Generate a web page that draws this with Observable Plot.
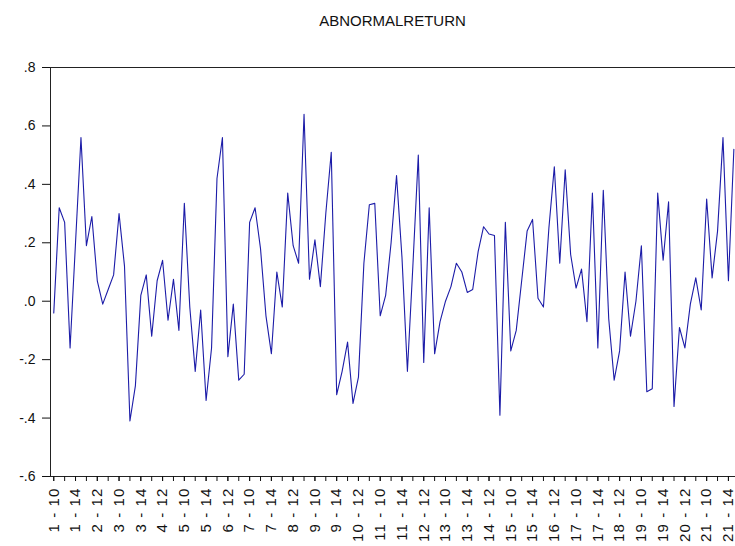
<!DOCTYPE html>
<html><head><meta charset="utf-8">
<script src="https://cdn.jsdelivr.net/npm/d3@7"></script>
<script src="https://cdn.jsdelivr.net/npm/@observablehq/plot@0.6"></script>
<style>
body{margin:0;background:#fff;font-family:"Liberation Sans",Arial,sans-serif;}
#title{height:40px;box-sizing:border-box;padding-top:13px;padding-left:50px;text-align:center;font-size:15px;line-height:15px;color:#111;}
.xlab text{letter-spacing:1.1px;}
</style></head><body>
<div id="title">ABNORMALRETURN</div>
<div id="chart"></div>
<script>
const values = [
 -0.04, 0.32, 0.27, -0.16, 0.20, 0.56, 0.19, 0.29, 0.07, -0.01,
 0.04, 0.09, 0.30, 0.12, -0.41, -0.29, 0.02, 0.09, -0.12, 0.07,
 0.14, -0.065, 0.075, -0.10, 0.335, -0.02, -0.24, -0.03, -0.34, -0.16,
 0.42, 0.56, -0.19, -0.01, -0.27, -0.25, 0.27, 0.32, 0.18, -0.05,
 -0.18, 0.10, -0.02, 0.37, 0.19, 0.13, 0.64, 0.075, 0.21, 0.05,
 0.30, 0.51, -0.32, -0.24, -0.14, -0.35, -0.26, 0.13, 0.33, 0.335,
 -0.05, 0.02, 0.20, 0.43, 0.15, -0.24, 0.12, 0.50, -0.21, 0.32,
 -0.18, -0.07, 0.00, 0.05, 0.13, 0.10, 0.03, 0.04, 0.17, 0.255,
 0.23, 0.225, -0.39, 0.27, -0.17, -0.10, 0.07, 0.24, 0.28, 0.01,
 -0.02, 0.25, 0.46, 0.13, 0.45, 0.16, 0.045, 0.11, -0.07, 0.37,
 -0.16, 0.38, -0.06, -0.27, -0.17, 0.10, -0.12, 0.00, 0.19, -0.31,
 -0.30, 0.37, 0.14, 0.34, -0.36, -0.09, -0.16, -0.01, 0.08, -0.03,
 0.35, 0.08, 0.24, 0.56, 0.07, 0.52
];
const xTickLabels = ["1 - 10","1 - 14","2 - 12","3 - 10","3 - 14","4 - 12","5 - 10","5 - 14","6 - 12","7 - 10","7 - 14","8 - 12","9 - 10","9 - 14","10 - 12","11 - 10","11 - 14","12 - 12","13 - 10","13 - 14","14 - 12","15 - 10","15 - 14","16 - 12","17 - 10","17 - 14","18 - 12","19 - 10","19 - 14","20 - 12","21 - 10","21 - 14"];
const yTicks = [-0.6, -0.4, -0.2, 0, 0.2, 0.4, 0.6, 0.8];
const yTickLabels = ["-.6", "-.4", "-.2", ".0", ".2", ".4", ".6", ".8"];

const rows = values.map((v, i) => ({i, v}));
const labelPos = xTickLabels.map((_, k) => k * 4);
const minorPos = d3.range(0, values.length, 2);
const yFmt = d => yTickLabels[yTicks.findIndex(t => Math.abs(t - d) < 1e-9)];

const chart = Plot.plot({
  width: 735, height: 506,
  marginLeft: 50, marginRight: 0, marginTop: 27, marginBottom: 70,
  style: {fontFamily: "Liberation Sans, Arial, sans-serif", fontSize: "14px", color: "#111", background: "#fff"},
  x: {domain: [-0.6, 125.3]},
  y: {domain: [-0.6, 0.8]},
  marks: [
    Plot.frame({stroke: "#222"}),
    Plot.axisY({ticks: yTicks, tickFormat: yFmt, tickSize: 8, tickPadding: 7, label: null, fontSize: 14}),
    Plot.axisX({ticks: minorPos, tickFormat: () => "", tickSize: 5, label: null}),
    Plot.axisX({ticks: labelPos, tickFormat: d => xTickLabels[Math.round(d / 4)], tickRotate: -90, tickSize: 5, tickPadding: 6, label: null, fontSize: 15, className: "xlab"}),
    Plot.line(rows, {x: "i", y: "v", stroke: "#1c1ca8", strokeWidth: 1.1})
  ]
});
document.getElementById("chart").appendChild(chart);
</script>
</body></html>
